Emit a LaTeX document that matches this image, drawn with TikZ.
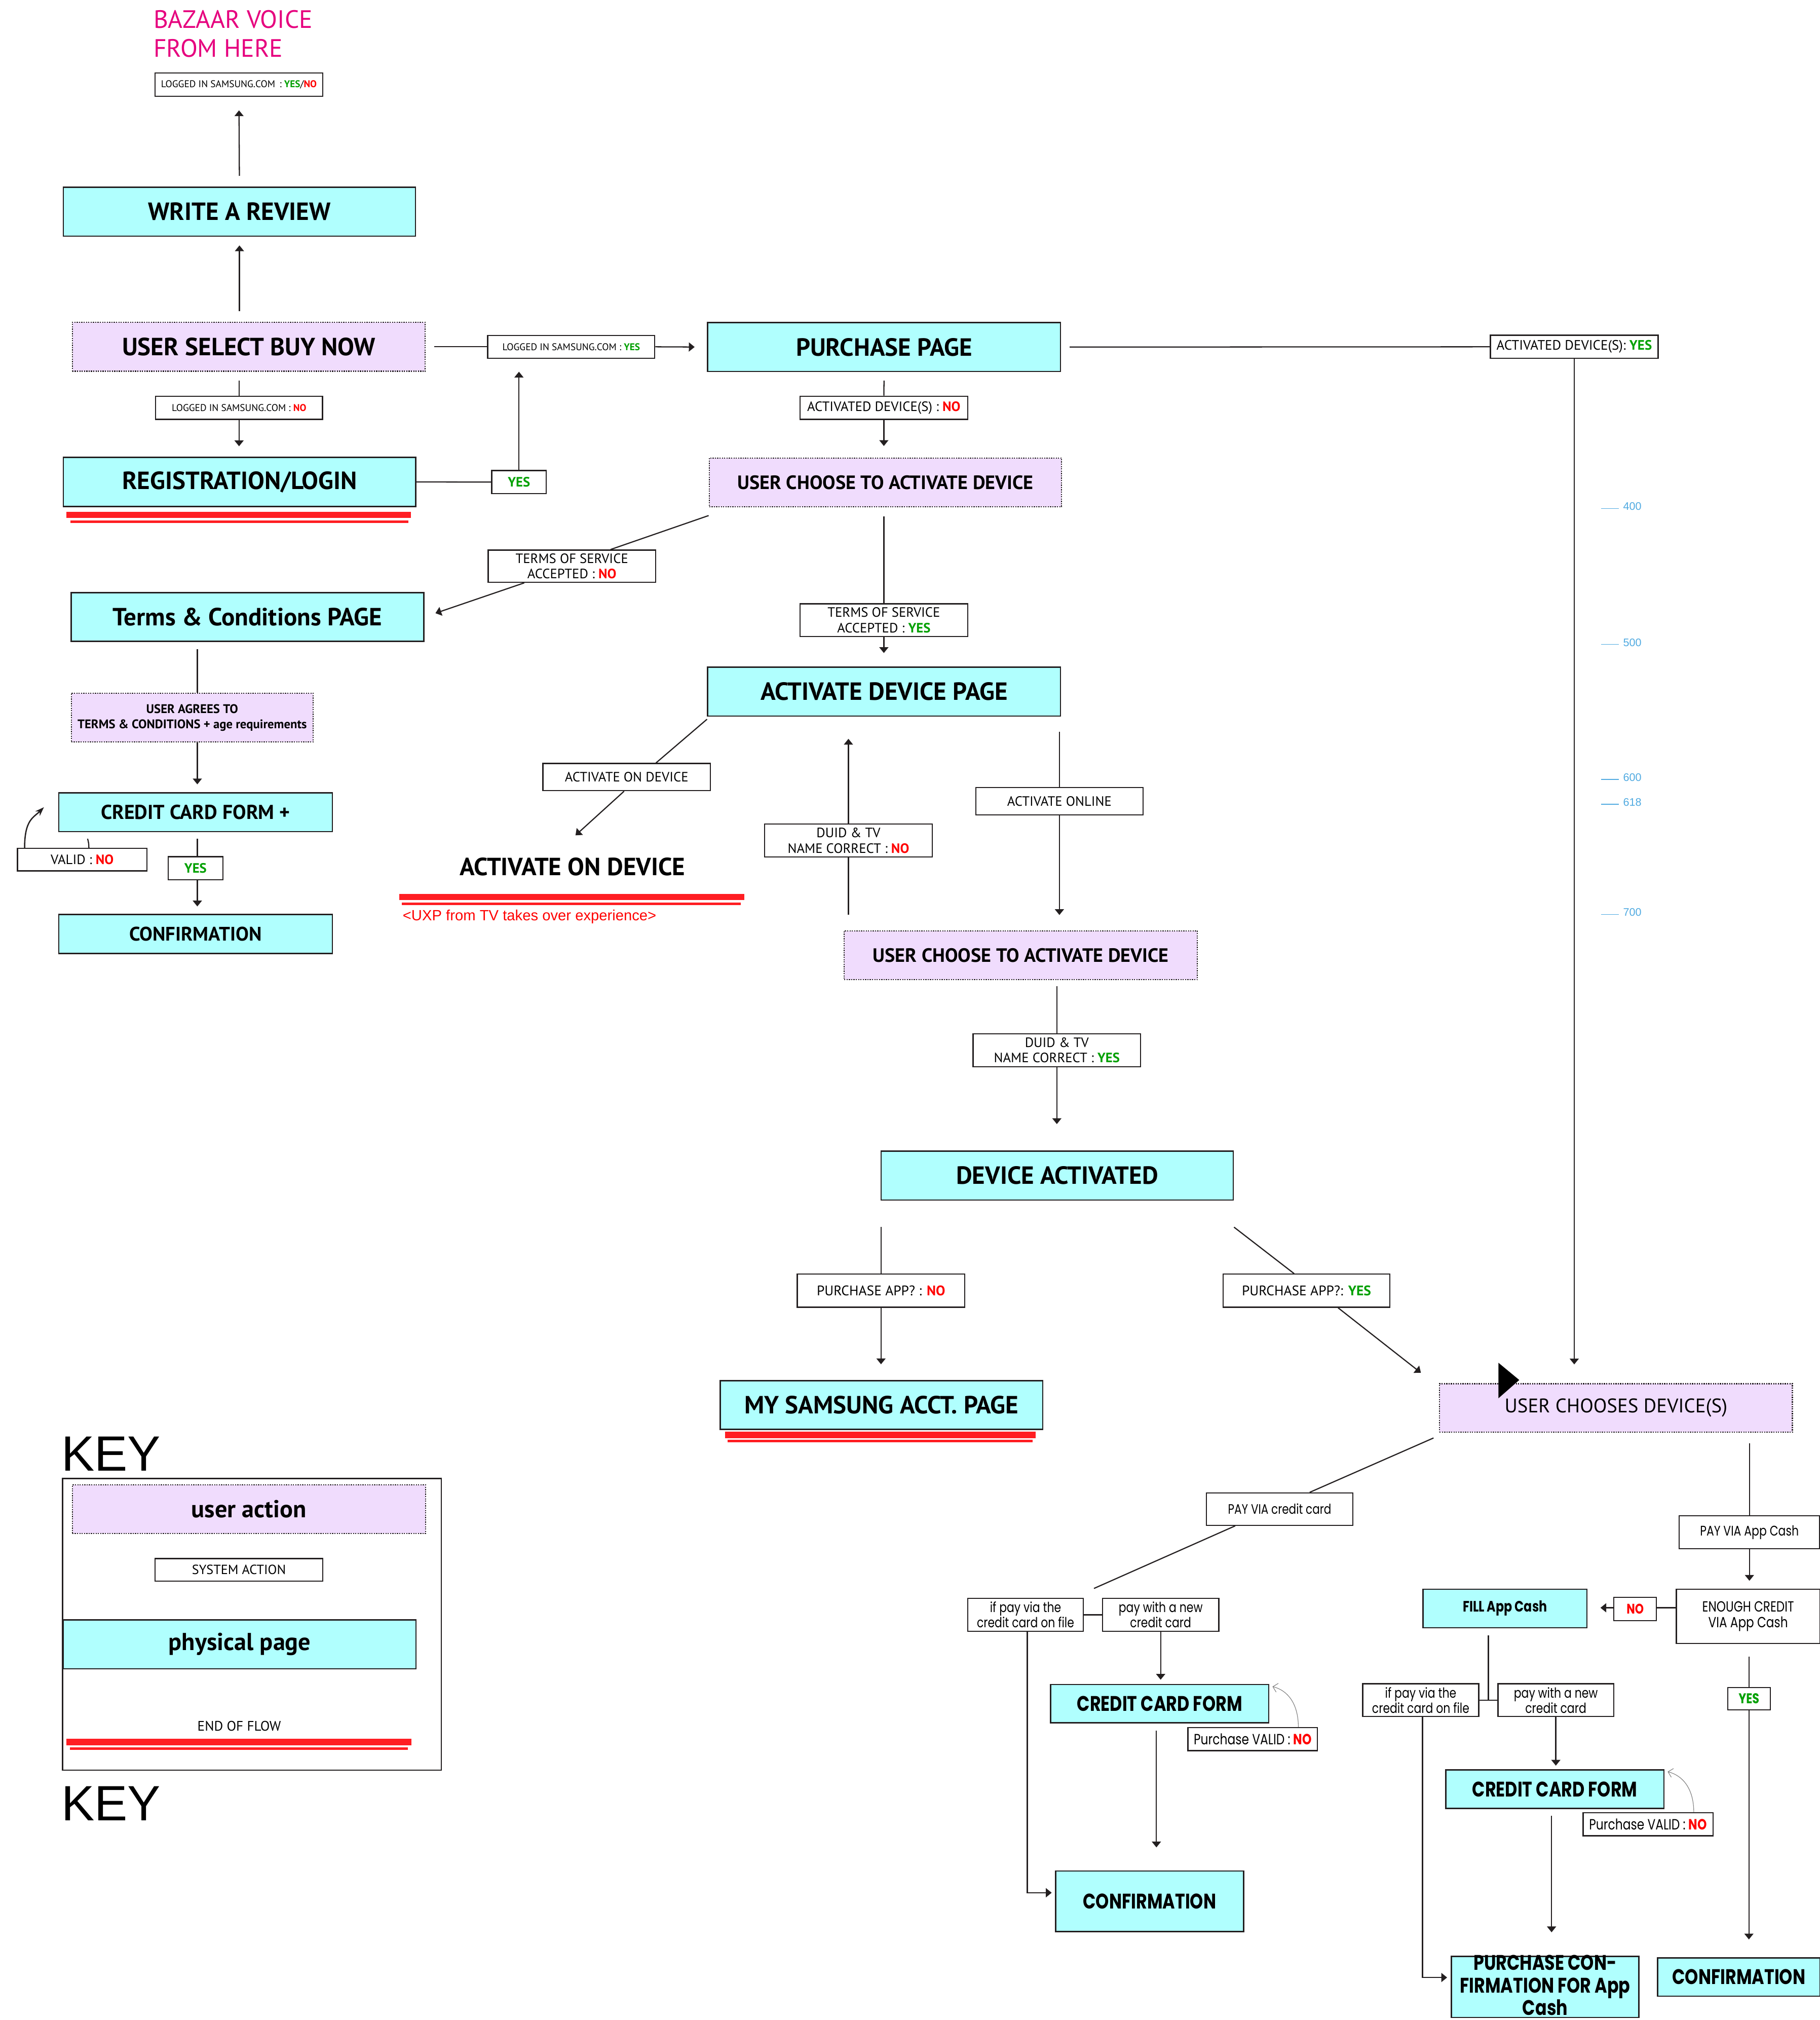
\documentclass[tikz,border=0pt]{standalone}
\usepackage{fontspec}
\setmainfont{PT Sans}
\newfontfamily\wf{Poppins}[FakeStretch=0.8]
\newfontfamily\af{Liberation Sans}
\usetikzlibrary{arrows.meta,calc}
\definecolor{pagec}{RGB}{176,255,254}
\definecolor{actc}{RGB}{240,220,253}
\definecolor{linec}{RGB}{35,31,32}
\definecolor{redl}{RGB}{255,30,35}
\definecolor{yesg}{RGB}{0,160,0}
\definecolor{nor}{RGB}{255,0,0}
\definecolor{magc}{RGB}{230,0,126}
\definecolor{bluec}{RGB}{80,170,225}
\newcommand\fsz[2]{\fontsize{#1}{#2}\selectfont}
\newcommand\gy{\textcolor{yesg}{\bfseries YES}}
\newcommand\rn{\textcolor{nor}{\bfseries NO}}
\begin{document}
\begin{tikzpicture}[x=1pt,y=-1pt,
  base/.style={inner sep=0pt, align=center, text=black},
  page/.style={base, draw=linec, line width=1pt, fill=pagec},
  act/.style={base, draw=linec, line width=0.9pt, fill=actc, dash pattern=on 0.9pt off 0.9pt},
  sys/.style={base, draw=linec, line width=0.9pt, fill=white},
  conn/.style={draw=linec, line width=0.9pt},
  arr/.style={conn, -{Triangle[length=4.5pt,width=7pt]}},
  back/.style={draw=gray, line width=0.45pt, -{Straight Barb[length=3.5pt,width=7pt]}},
  endthick/.style={draw=redl, line width=5pt},
  endthin/.style={draw=redl, line width=2pt},
  ruler/.style={draw=bluec, line width=0.5pt},
  sz/.style 2 args={minimum width=#1, minimum height=#2},
  ttl/.style={font=\fsz{19.3}{22}\bfseries},
  lbl/.style={font=\fsz{10.8}{12}},
  lbl2/.style={font=\fsz{10.5}{12}},
  wlbl/.style={font=\wf\fsz{10.8}{11.8}},
  wttl/.style={font=\wf\fsz{16.4}{17.4}\bfseries},
]
\fill[white] (0,0) rectangle (1413,1568);
\useasboundingbox (0,0) rectangle (1413,1568);

% ---------- top left ----------
\node[base, anchor=west, text=magc, align=left, font=\fsz{19.5}{22.3}] (bv) at (119,26.2) {BAZAAR VOICE\\FROM HERE};
\node[sys, sz={130}{18}, font=\fsz{7.6}{9}] (lt) at (185.5,65.7) {LOGGED IN SAMSUNG.COM\, : \gy/\rn};
\node[page, sz={273.4}{38}, ttl] (wr) at (185.9,164.3) {WRITE A REVIEW};
\node[act, sz={273.8}{38}, ttl] (usb) at (193.1,269.2) {USER SELECT BUY NOW};
\node[sys, sz={129.7}{17.8}, font=\fsz{7.6}{9}] (lyes) at (443.5,269.2) {LOGGED IN SAMSUNG.COM : \gy};
\node[page, sz={274}{38}, ttl] (pp) at (686.4,269.4) {PURCHASE PAGE};
\node[sys, sz={130.2}{17.9}, font=\fsz{10.6}{12}] (ady) at (1222.2,269.2) {ACTIVATED DEVICE(S): \gy};
\node[sys, sz={129.6}{18}, font=\fsz{7.6}{9}] (lno) at (185.6,316.5) {LOGGED IN SAMSUNG.COM : \rn};
\node[page, sz={273.6}{38}, ttl] (reg) at (186,374.1) {REGISTRATION/LOGIN};
\node[sys, sz={42.2}{18}, lbl2] (yes1) at (402.9,374.2) {\gy};
\node[sys, sz={130}{18}, lbl2] (adn) at (686.2,316.5) {ACTIVATED DEVICE(S) : \rn};
\node[act, sz={273.6}{37.7}, font=\fsz{15}{16}\bfseries] (uca1) at (687.4,374.4) {USER CHOOSE TO ACTIVATE DEVICE};
\node[sys, sz={130}{25}, font=\fsz{10.5}{12}] (tosn) at (444,439.5) {TERMS OF SERVICE\\ACCEPTED : \rn};
\node[sys, sz={130}{25.4}, font=\fsz{10.5}{12}] (tosy) at (686.2,481.4) {TERMS OF SERVICE\\ACCEPTED : \gy};
\node[page, sz={273.7}{37.8}, ttl] (tc) at (192.2,478.9) {Terms \& Conditions PAGE};
\node[act, sz={187.7}{38}, font=\fsz{9.7}{11.8}\bfseries] (uat) at (149.2,557) {USER AGREES TO\\TERMS \& CONDITIONS + age requirements};
\node[page, sz={212.4}{30.1}, font=\fsz{15.6}{16}\bfseries] (ccf) at (151.8,630.4) {CREDIT CARD FORM +};
\node[sys, sz={100.5}{17.5}, lbl2] (vno) at (63.8,667.3) {VALID : \rn};
\node[sys, sz={42.4}{18}, lbl2] (yes2) at (151.8,674) {\gy};
\node[page, sz={212.4}{30.2}, font=\fsz{15.2}{16}\bfseries] (conf1) at (151.8,725) {CONFIRMATION};

% ---------- middle ----------
\node[page, sz={274}{38}, ttl] (adp) at (686.4,536.8) {ACTIVATE DEVICE PAGE};
\node[sys, sz={130}{21.1}, lbl2] (aod) at (486.5,603.2) {ACTIVATE ON DEVICE};
\node[base, anchor=base, ttl] (aodt) at (444.5,679.4) {ACTIVATE ON DEVICE};
\node[base, anchor=base west, text=nor, font=\af\fsz{11.5}{13}] (uxp) at (312.5,714.5) {<UXP from TV takes over experience>};
\node[sys, sz={130.2}{25.6}, font=\fsz{10.5}{12}] (duidn) at (658.7,652.5) {DUID \& TV\\NAME CORRECT : \rn};
\node[sys, sz={130}{21.4}, lbl2] (aon) at (822.5,621.9) {ACTIVATE ONLINE};
\node[act, sz={274.2}{38}, font=\fsz{15}{16}\bfseries] (uca2) at (792.5,741.5) {USER CHOOSE TO ACTIVATE DEVICE};
\node[sys, sz={130.1}{25.7}, font=\fsz{10.5}{12}] (duidy) at (820.5,815.2) {DUID \& TV\\NAME CORRECT : \gy};
\node[page, sz={273.5}{38.1}, ttl] (da) at (820.8,912.5) {DEVICE ACTIVATED};
\node[sys, sz={130}{25.7}, lbl] (pan) at (684,1001.9) {PURCHASE APP? : \rn};
\node[page, sz={250.4}{37.8}, ttl] (msa) at (684.3,1090.7) {MY SAMSUNG ACCT. PAGE};
\node[sys, sz={129.4}{25.7}, lbl] (pay) at (1014.3,1001.9) {PURCHASE APP?: \gy};
\node[act, sz={274}{37.7}, font=\fsz{15.3}{17}] (ucd) at (1254.6,1092.9) {USER CHOOSES DEVICE(S)};

% ---------- lower right ----------
\node[sys, sz={113.5}{25.1}, font=\wf\fsz{10.6}{12}] (pvcc) at (993.5,1171.4) {PAY VIA credit card};
\node[sys, sz={89.7}{25.4}, wlbl] (ifp1) at (796.2,1253.5) {if pay via the\\credit card on file};
\node[sys, sz={90.2}{25.4}, wlbl] (pwn1) at (901.1,1253.5) {pay with a new\\credit card};
\node[page, sz={169.4}{29.7}, wttl] (ccf1) at (900.3,1322.5) {CREDIT CARD FORM};
\node[sys, sz={100.6}{17.8}, font=\wf\fsz{11.5}{12}] (pv1) at (972.6,1350) {Purchase VALID : \rn};
\node[page, sz={146}{47}, wttl] (conf2) at (892.5,1475.8) {CONFIRMATION};
\node[sys, sz={109}{25.7}, font=\wf\fsz{10.8}{12}] (pvac) at (1358.2,1189.4) {PAY VIA App Cash};
\node[sys, sz={111.5}{42.2}, font=\wf\fsz{11.4}{12.3}] (ecac) at (1357.2,1254.6) {ENOUGH CREDIT\\VIA App Cash};
\node[sys, sz={33}{18}, font=\wf\fsz{10.8}{12}] (no2) at (1269.5,1249) {\rn};
\node[page, sz={127.3}{29.9}, font=\wf\fsz{11.7}{13}\bfseries] (fac) at (1168.4,1248.5) {FILL App Cash};
\node[sys, sz={90}{25.4}, wlbl] (ifp2) at (1103,1319.7) {if pay via the\\credit card on file};
\node[sys, sz={89.8}{25.4}, wlbl] (pwn2) at (1207.9,1319.7) {pay with a new\\credit card};
\node[page, sz={169.4}{29.9}, wttl] (ccf2) at (1207.1,1388.8) {CREDIT CARD FORM};
\node[sys, sz={100.9}{17.8}, font=\wf\fsz{11.5}{12}] (pv2) at (1279.5,1416.1) {Purchase VALID : \rn};
\node[page, sz={145.4}{47.4}] (pcac) at (1199.6,1542.4) {};
\node[base, wttl, anchor=north] (pcact) at (1199.6,1517.5) {PURCHASE CON-\\FIRMATION FOR App\\Cash};
\node[page, sz={126}{29.7}, wttl] (conf3) at (1350,1534.6) {CONFIRMATION};
\node[sys, sz={33}{17.4}, font=\wf\fsz{11}{12}] (yes3) at (1357.8,1318.5) {\gy};

\fill[black] (1163.3,1057.8) -- (1179.5,1071.2) -- (1163.3,1085.4) -- cycle;

% ---------- ruler ----------
\foreach \yy/\lab in {394.7/400, 500.3/500, 605/600, 624.3/618, 709.7/700} {
  \draw[ruler] (1243,\yy) -- (1257,\yy);
  \node[base, anchor=west, text=bluec, font=\af\fsz{8.5}{10}] (r\lab) at (1260,\yy-1.5) {\lab};
}

% ---------- key ----------
\node[base, anchor=base west, font=\af\fsz{38.5}{40}] (key1) at (47.5,1141.6) {KEY};
\draw[linec, line width=1pt] (48.6,1147.6) rectangle (342.6,1374.1);
\node[act, sz={274.2}{37.7}, font=\fsz{19}{22}\bfseries] (ua) at (193.3,1171.5) {user action};
\node[sys, sz={130.3}{17.5}, font=\fsz{10.3}{12}] (sa) at (185.5,1218.6) {SYSTEM ACTION};
\node[page, sz={273.8}{38}, font=\fsz{19}{22}\bfseries] (php) at (186.1,1276.4) {physical page};
\node[base, anchor=base, font=\fsz{10.7}{12}] (eof) at (185.7,1343.4) {END OF FLOW};
\node[base, anchor=base west, font=\af\fsz{38.5}{40}] (key2) at (47.5,1413) {KEY};

% ---------- end of flow bars ----------
\draw[endthick] (51.6,399.7) -- (319,399.7);
\draw[endthin] (54.8,405.1) -- (317,405.1);
\draw[endthick] (310,696.3) -- (578,696.3);
\draw[endthin] (312,701.4) -- (575,701.4);
\draw[endthick] (563,1113.7) -- (804,1113.7);
\draw[endthin] (565,1118.7) -- (801.8,1118.7);
\draw[endthick] (51.7,1352.3) -- (319.6,1352.3);
\draw[endthin] (54.4,1357.4) -- (316.6,1357.4);

% ---------- connectors ----------
\draw[arr, shorten <=8.3pt, shorten >=10.5pt] (wr.north) -- (lt.south);
\draw[arr, shorten <=8.2pt, shorten >=6.7pt] (wr.south |- usb.north) -- (wr.south);
\draw[conn, shorten <=6.8pt] (usb.east) -- (lyes.west);
\draw[arr, shorten >=9.6pt] (lyes.east) -- (pp.west);
\draw[conn, shorten <=6.6pt] (pp.east) -- (ady.west);
\draw[arr, shorten >=14.5pt] (ady.south) -- (ady.south |- ucd.north);
\draw[conn, shorten <=6.8pt] (lno.north |- usb.south) -- (lno.north);
\draw[arr, shorten >=8.2pt] (lno.south) -- (lno.south |- reg.north);
\draw[conn] (reg.east) -- (yes1.west);
\draw[arr, shorten >=10pt] (yes1.north) -- (yes1.north |- lyes.south);
\draw[conn, shorten <=6.6pt] (pp.south) -- (adn.north);
\draw[arr, shorten >=8.9pt] (adn.south) -- (adn.south |- uca1.north);
\draw[conn] ($(uca1.south west)+(0,6.5)$) -- ($(tosn.north)+(30,0)$);
\draw[arr, shorten >=9pt] ($(tosn.south)+(-37,0)$) -- (tc.east);
\draw[conn, shorten <=7pt] (uca1.south -| tosy.north) -- (tosy.north);
\draw[arr, shorten >=10.4pt] (tosy.south) -- (tosy.south |- adp.north);
\coordinate (cx) at ($(ccf.north)+(1.4,0)$);
\draw[conn, shorten <=5.6pt] (cx |- tc.south) -- (cx |- uat.north);
\draw[arr, shorten >=6pt] (cx |- uat.south) -- (cx);
\draw[conn, shorten <=5pt] (cx |- ccf.south) -- (cx |- yes2.north);
\draw[arr, shorten >=5.8pt] (cx |- yes2.south) -- (cx |- conf1.north);
\draw[conn] ($(ccf.south west)+(22.9,5.1)$) to[bend left=8] ($(vno.north)+(5.2,0)$);
\draw[conn, line width=1pt, -{Stealth[length=7pt,width=5pt]}] ($(vno.north west)+(6,0)$) .. controls +(0,-22) and +(-8,8) .. ($(ccf.west)+(-11,-3.8)$);
\draw[conn] ($(adp.south west)+(0,2)$) -- ($(aod.north)+(22.8,0)$);
\draw[arr] ($(aod.south)+(-2,0)$) -- ($(aodt.north)+(2.3,-17)$);
\draw[conn] ($(duidn.south |- uca2.north)+(0,-12.2)$) -- (duidn.south);
\draw[arr, shorten >=17.2pt] (duidn.north) -- (duidn.north |- adp.south);
\draw[conn, shorten <=11.9pt] (aon.north |- adp.south) -- (aon.north);
\draw[arr, shorten >=11.8pt] (aon.south) -- (aon.south |- uca2.north);
\draw[conn, shorten <=4.5pt] (duidy.north |- uca2.south) -- (duidy.north);
\draw[arr, shorten >=20.4pt] (duidy.south) -- (duidy.south |- da.north);
\draw[conn, shorten <=20.5pt] (pan.north |- da.south) -- (pan.north);
\draw[arr, shorten >=12.3pt] (pan.south) -- (pan.south |- msa.north);
\draw[conn] ($(da.south east)+(0,20.5)$) -- ($(pay.north)+(-9.6,0)$);
\draw[arr] ($(pay.south)+(24.6,0)$) -- ($(ucd.north west)+(-14,-8)$);
\draw[conn] ($(ucd.south west)+(-4.2,4)$) -- ($(pvcc.north)+(23.3,0)$);
\coordinate (mid1) at ($(ifp1.east)!0.5!(pwn1.west)$);
\draw[conn] ($(pvcc.south)+(-34.5,0)$) -- ($(mid1)+(0.8,-20.5)$);
\draw[conn] (ifp1.east) -- (pwn1.west);
\draw[arr, shorten >=3.3pt] (pwn1.south) -- (pwn1.south |- ccf1.north);
\draw[back] ($(pv1.north)+(35.4,0)$) .. controls +(0,-18) and +(12,3) .. ($(ccf1.north east)+(2.4,2)$);
\coordinate (c1x) at ($(ccf1.south)+(-2.5,0)$);
\draw[arr, shorten <=5.7pt, shorten >=17.8pt] (c1x) -- (c1x |- conf2.north);
\draw[arr, shorten >=2.5pt] ($(ifp1.south)+(1.4,0)$) |- ($(conf2.west)+(0,-6.6)$);
\draw[conn, shorten <=8.3pt] (pvac.north |- ucd.south) -- (pvac.north);
\draw[arr, shorten >=6pt] (pvac.south) -- (pvac.south |- ecac.north);
\coordinate (ew) at ($(ecac.west)+(0,-6.6)$);
\draw[conn] (ew) -- (ew -| no2.east);
\draw[arr, shorten >=10pt] (ew -| no2.west) -- (ew -| fac.east);
\coordinate (mid2) at ($(ifp2.east)!0.5!(pwn2.west)$);
\draw[conn, shorten <=5.4pt] (mid2 |- fac.south) -- (mid2);
\draw[conn] (ifp2.east) -- (pwn2.west);
\draw[arr, shorten >=2.8pt] (pwn2.south) -- (pwn2.south |- ccf2.north);
\draw[back] ($(pv2.north)+(35.5,0)$) .. controls +(0,-18) and +(12,3) .. ($(ccf2.north east)+(2.4,1.9)$);
\coordinate (c2x) at ($(ccf2.south)+(-2.5,0)$);
\draw[arr, shorten <=5.3pt, shorten >=18.3pt] (c2x) -- (c2x |- pcac.north);
\draw[arr, shorten >=2.9pt] ($(ifp2.south)+(1.4,0)$) |- ($(pcac.west)+(0,-7.4)$);
\draw[conn, shorten <=9.6pt] (yes3.north |- ecac.south) -- (yes3.north);
\draw[arr, shorten >=13.8pt] (yes3.south) -- (yes3.south |- conf3.north);
\end{tikzpicture}
\end{document}
